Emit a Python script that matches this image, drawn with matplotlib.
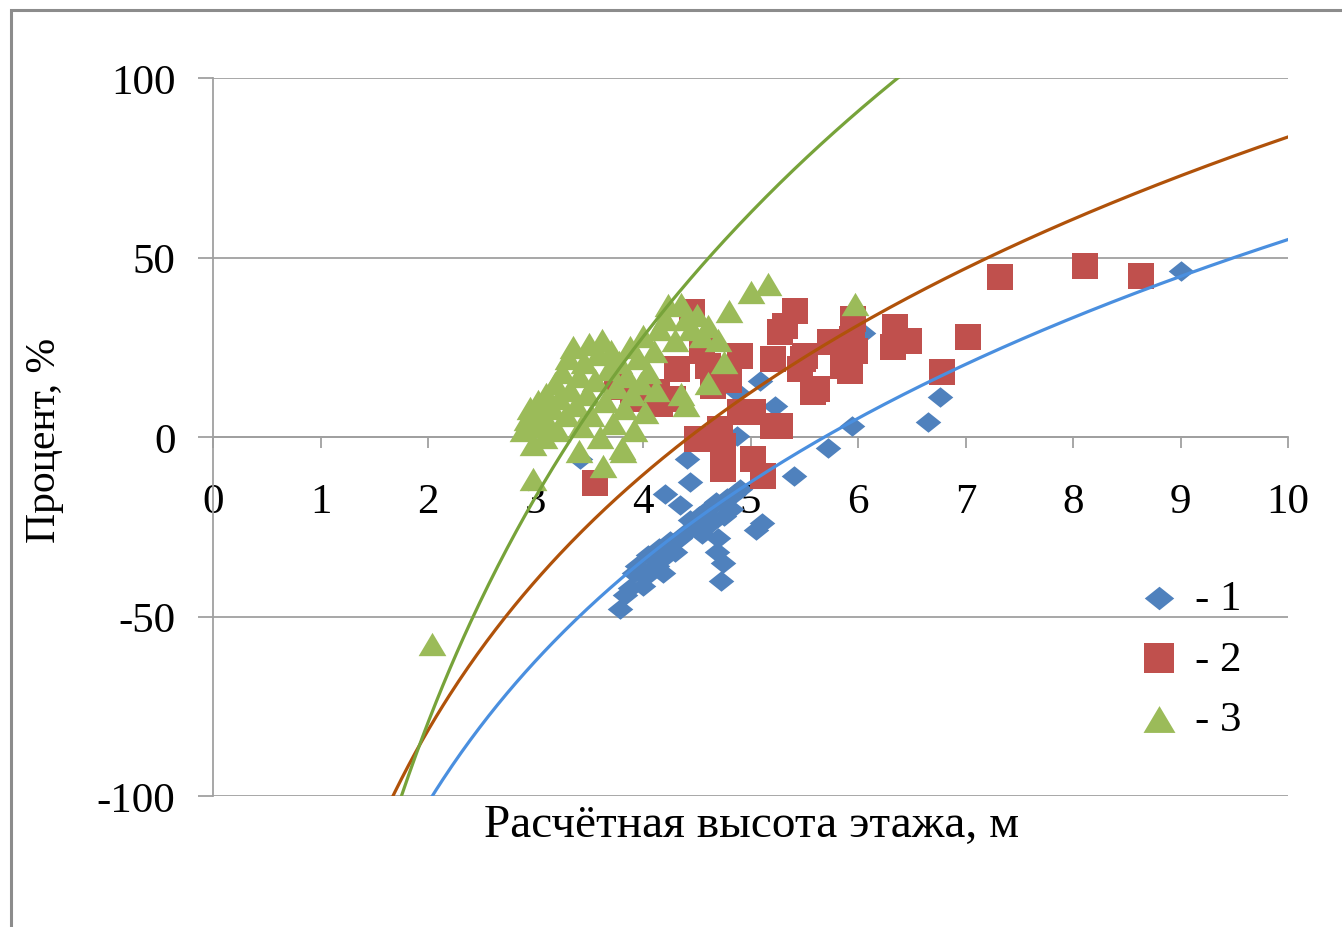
import numpy as np
import matplotlib
matplotlib.use("Agg")
import matplotlib.pyplot as plt
from matplotlib.path import Path
from matplotlib.patches import Rectangle

plt.rcParams['font.family'] = ['Liberation Serif', 'DejaVu Serif']
plt.rcParams['axes.unicode_minus'] = False

# series 1 (blue diamonds)
x1 = [3.79, 3.83, 3.88, 3.92, 3.94, 4.0, 4.02, 4.05, 4.08, 4.13, 4.15, 4.19, 4.22, 4.25,
      4.3, 4.34, 4.34, 4.38, 4.44, 4.47, 4.52, 4.55, 4.6, 4.63, 4.65, 4.68, 4.69, 4.7,
      4.74, 4.73, 4.75, 4.78, 4.82, 4.85, 4.9, 5.05, 5.11, 4.2, 4.44, 4.41, 5.4, 4.87,
      4.87, 5.09, 5.23, 5.72, 5.94, 6.65, 6.76, 6.05, 9.0, 3.41]
y1 = [-48, -44, -42, -38, -36, -41.5, -39, -33, -37, -36, -31, -38, -33, -29,
      -32, -28, -19, -27, -23, -24, -22, -27, -20, -24, -23, -18, -32, -28,
      -35, -40, -22, -17, -20, -16, -14.5, -26, -24, -16, -12.5, -6, -11, 0.3,
      12.5, 15.6, 8.6, -3, 3, 4.2, 11.1, 29, 46.2, -6]

# series 2 (red squares)
x2 = [3.55, 8.11, 8.63, 7.32, 7.02, 6.78, 6.47, 6.34, 6.33, 5.95, 5.97, 5.93, 5.74,
      5.41, 5.51, 5.58, 5.94, 5.46, 5.32, 5.27, 4.46, 5.27, 4.9, 5.21, 5.49, 5.62,
      4.32, 4.6, 4.65, 4.04, 4.28, 5.02, 5.21, 4.72, 4.5, 4.74, 5.02, 4.74, 5.12,
      4.9, 5.86, 4.13, 3.91, 3.76, 4.16, 4.55, 4.8]
y2 = [-12.8, 47.6, 44.8, 44.6, 27.9, 18.1, 26.7, 30.6, 25.1, 32.9, 24, 18.4, 26.5,
      35.1, 22.6, 12.5, 27.3, 18.9, 30.9, 29.2, 34.8, 3.1, 22.6, 21.7, 21.7, 13.4,
      18.9, 19.8, 14.2, 10.6, 10.6, 7.0, 3.1, 2.2, -0.6, -2.5, -6.1, -8.9, -10.9,
      7.0, 19.8, 12.5, 10.6, 13.9, 9.2, 24, 16]

# series 3 (green triangles)
x3 = [2.88, 2.92, 2.95, 2.98, 3.0, 3.02, 3.05, 3.08, 3.1, 3.12, 3.15, 3.18, 3.2, 3.22,
      3.25, 3.28, 3.3, 3.32, 3.35, 3.38, 3.4, 3.42, 3.45, 3.48, 3.5, 3.52, 3.55, 3.58,
      3.6, 3.62, 3.65, 3.68, 3.7, 3.72, 3.75, 3.78, 3.8, 3.82, 3.85, 3.88, 3.9, 3.92,
      3.95, 3.98, 4.0, 4.02, 4.05, 4.1, 4.12, 4.15, 4.2, 4.23, 4.3, 4.35, 4.4, 4.45,
      4.5, 4.55, 4.6, 4.7, 4.75, 4.8, 4.35, 4.4, 4.6, 5.0, 5.16, 5.97, 2.04, 2.98,
      3.63, 3.4, 3.81]
y3 = [2, 5, 8, -2, 3, 10, 6, 0, 12, 4, 8, 15, 2, 11,
      18, 6, 22, 13, 25, 9, 17, 3, 21, 12, 26, 6, 16, 23,
      0, 27, 10, 19, 24, 4, 14, 21, -3, 8, 17, 25, 12, 2,
      22, 15, 28, 7, 18, 24, 13, 30, 33, 36.8, 27, 37, 33, 30,
      34, 28, 31, 27, 21, 35, 12, 9, 15, 40.4, 42.6, 37, -57.7, -11.7,
      -8, -4, -4]

# logarithmic trend lines y = a*ln(x) + b
trend_a = [97.5, 102.7, 155.0]
trend_b = [-169.5, -152.9, -187.0]

labels = ['- 1', '- 2', '- 3']
mark_colors = ['#4F81BD', '#C0504D', '#9BBB59']
line_colors = ['#4A8FDF', '#B0520A', '#77A33A']

diamond = Path([(-0.5, 0), (0, 0.4), (0.5, 0), (0, -0.4), (-0.5, 0)],
               [Path.MOVETO, Path.LINETO, Path.LINETO, Path.LINETO, Path.CLOSEPOLY])
triangle = Path([(0, 0.42), (-0.5, -0.42), (0.5, -0.42), (0, 0.42)],
                [Path.MOVETO, Path.LINETO, Path.LINETO, Path.CLOSEPOLY])

fig = plt.figure(figsize=(13.42, 9.28), dpi=100)
ax = fig.add_axes([213/1342, 1 - 797/928, (1288 - 213)/1342, (797 - 79)/928])

ax.scatter(x1, y1, marker=diamond, s=340, color=mark_colors[0], lw=0, label=labels[0], zorder=3)
ax.scatter(x2, y2, marker='s', s=360, color=mark_colors[1], lw=0, label=labels[1], zorder=4)
ax.scatter(x3, y3, marker=triangle, s=400, color=mark_colors[2], lw=0, label=labels[2], zorder=5)

xs = np.linspace(1.5, 10, 400)
for a, b, c in zip(trend_a, trend_b, line_colors):
    ax.plot(xs, a*np.log(xs) + b, color=c, lw=2.3, zorder=6)

ax.set_xlim(0, 10)
ax.set_ylim(-100, 100)
ax.set_xticks(range(0, 11))
ax.set_yticks([-100, -50, 0, 50, 100])

for s in ['top', 'right']:
    ax.spines[s].set_visible(False)
ax.spines['bottom'].set_position(('data', 0))
ax.spines['left'].set_color('#A0A0A0')
ax.spines['bottom'].set_color('#A0A0A0')
ax.spines['left'].set_linewidth(1.3)
ax.spines['bottom'].set_linewidth(1.3)
ax.yaxis.grid(True, color='#A0A0A0', lw=1.3)
ax.set_axisbelow(True)

ax.tick_params(axis='y', length=11, width=1.3, color='#A0A0A0', pad=16, labelsize=31)
ax.tick_params(axis='x', length=8, width=1.3, color='#A0A0A0', pad=25, labelsize=31)

fig.text(45/1342, 1 - 440/928, 'Процент, %', rotation=90, ha='center', va='center', fontsize=30)
fig.text(752/1342, 1 - 826/928, 'Расчётная высота этажа, м', ha='center', va='center', fontsize=34)

ax.legend(loc='center left', bbox_to_anchor=(1120/1342, 1 - 660/928), bbox_transform=fig.transFigure,
          frameon=False, fontsize=31, handletextpad=0.45, labelspacing=0.5, handlelength=0.8,
          borderpad=0, scatterpoints=1, markerscale=1.15)

fig.add_artist(Rectangle((11/1342, -1), 5, 2 - 11/928, fill=False, ec='#8C8C8C', lw=2.2,
                         transform=fig.transFigure))

fig.savefig('out.png', dpi=100)
